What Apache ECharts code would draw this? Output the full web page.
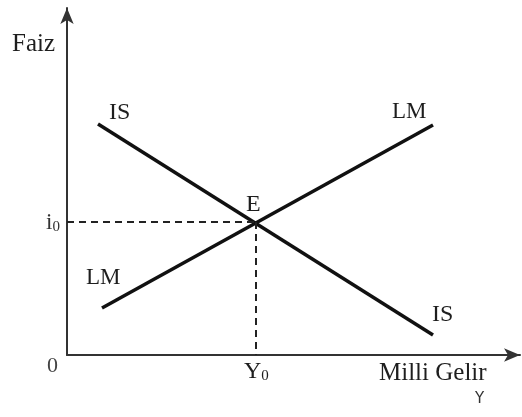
<!DOCTYPE html>
<html>
<head>
  <meta charset="utf-8" />
  <title>IS-LM</title>
  <script src="https://cdn.jsdelivr.net/npm/echarts@6/dist/echarts.min.js"></script>
  <style>
    html, body { margin: 0; padding: 0; background: #fff; }
  </style>
</head>
<body>
  <div id="chart" style="width: 522px;height:417px;"></div>
  <script type="text/javascript">
    // curve end points (income, interest)
    var isCurve = [[31, 231], [366, 20]];
    var lmCurve = [[35, 47], [366, 230]];
    var equilibrium = [189, 133];
    var xMax = 453, yMax = 347;

    var serif = '"Liberation Serif", "DejaVu Serif", serif';
    var ink = '#1e1e1e';
    var chart = echarts.init(document.getElementById('chart'));
    var option = {
      backgroundColor: '#fff',
      animation: false,
      grid: { left: 67, right: 2, top: 8, bottom: 62 },
      xAxis: {
        type: 'value', min: 0, max: xMax,
        axisLine: { lineStyle: { color: '#333', width: 2 }, symbol: ['none', 'arrow'], symbolSize: [10, 16] },
        axisTick: { show: false }, axisLabel: { show: false }, splitLine: { show: false }
      },
      yAxis: {
        type: 'value', min: 0, max: yMax,
        axisLine: { lineStyle: { color: '#333', width: 2 }, symbol: ['none', 'arrow'], symbolSize: [10, 16] },
        axisTick: { show: false }, axisLabel: { show: false }, splitLine: { show: false }
      },
      series: [
        { name: 'IS', type: 'line', data: isCurve, symbol: 'none', lineStyle: { color: '#111', width: 3.5 } },
        { name: 'LM', type: 'line', data: lmCurve, symbol: 'none', lineStyle: { color: '#111', width: 3.5 } },
        { type: 'line', data: [[0, equilibrium[1]], equilibrium], symbol: 'none',
          lineStyle: { color: '#222', width: 2, type: [7, 5] } },
        { type: 'line', data: [equilibrium, [equilibrium[0], 0]], symbol: 'none',
          lineStyle: { color: '#222', width: 2, type: [7, 5] } }
      ],
      graphic: [
        { type: 'text', left: 12, top: 32, style: { text: 'Faiz', font: '25px ' + serif, fill: ink } },
        { type: 'text', left: 109, top: 101, style: { text: 'IS', font: '24px ' + serif, fill: ink } },
        { type: 'text', left: 392, top: 100, style: { text: 'LM', font: '23px ' + serif, fill: ink } },
        { type: 'text', left: 246, top: 193, style: { text: 'E', font: '24px ' + serif, fill: ink } },
        { type: 'text', left: 86, top: 266, style: { text: 'LM', font: '23px ' + serif, fill: ink } },
        { type: 'text', left: 432, top: 303, style: { text: 'IS', font: '24px ' + serif, fill: ink } },
        { type: 'text', left: 46, top: 211, style: { text: 'i{s|0}', font: '23px ' + serif, fill: '#333',
          rich: { s: { font: '15px ' + serif, fill: '#333', verticalAlign: 'bottom', padding: [9, 0, 0, 0] } } } },
        { type: 'text', left: 47, top: 355, style: { text: '0', font: '22px ' + serif, fill: '#444' } },
        { type: 'text', left: 244, top: 360, style: { text: 'Y{s|0}', font: '24px ' + serif, fill: ink,
          rich: { s: { font: '15px ' + serif, fill: ink, verticalAlign: 'bottom', padding: [9, 0, 0, 0] } } } },
        { type: 'text', left: 379, top: 361, style: { text: 'Milli Gelir', font: '25px ' + serif, fill: ink } },
        { type: 'text', left: 475, top: 392, style: { text: 'Y', font: '15px "DejaVu Sans", sans-serif', fill: '#333' } }
      ]
    };
    chart.setOption(option);
  </script>
</body>
</html>
